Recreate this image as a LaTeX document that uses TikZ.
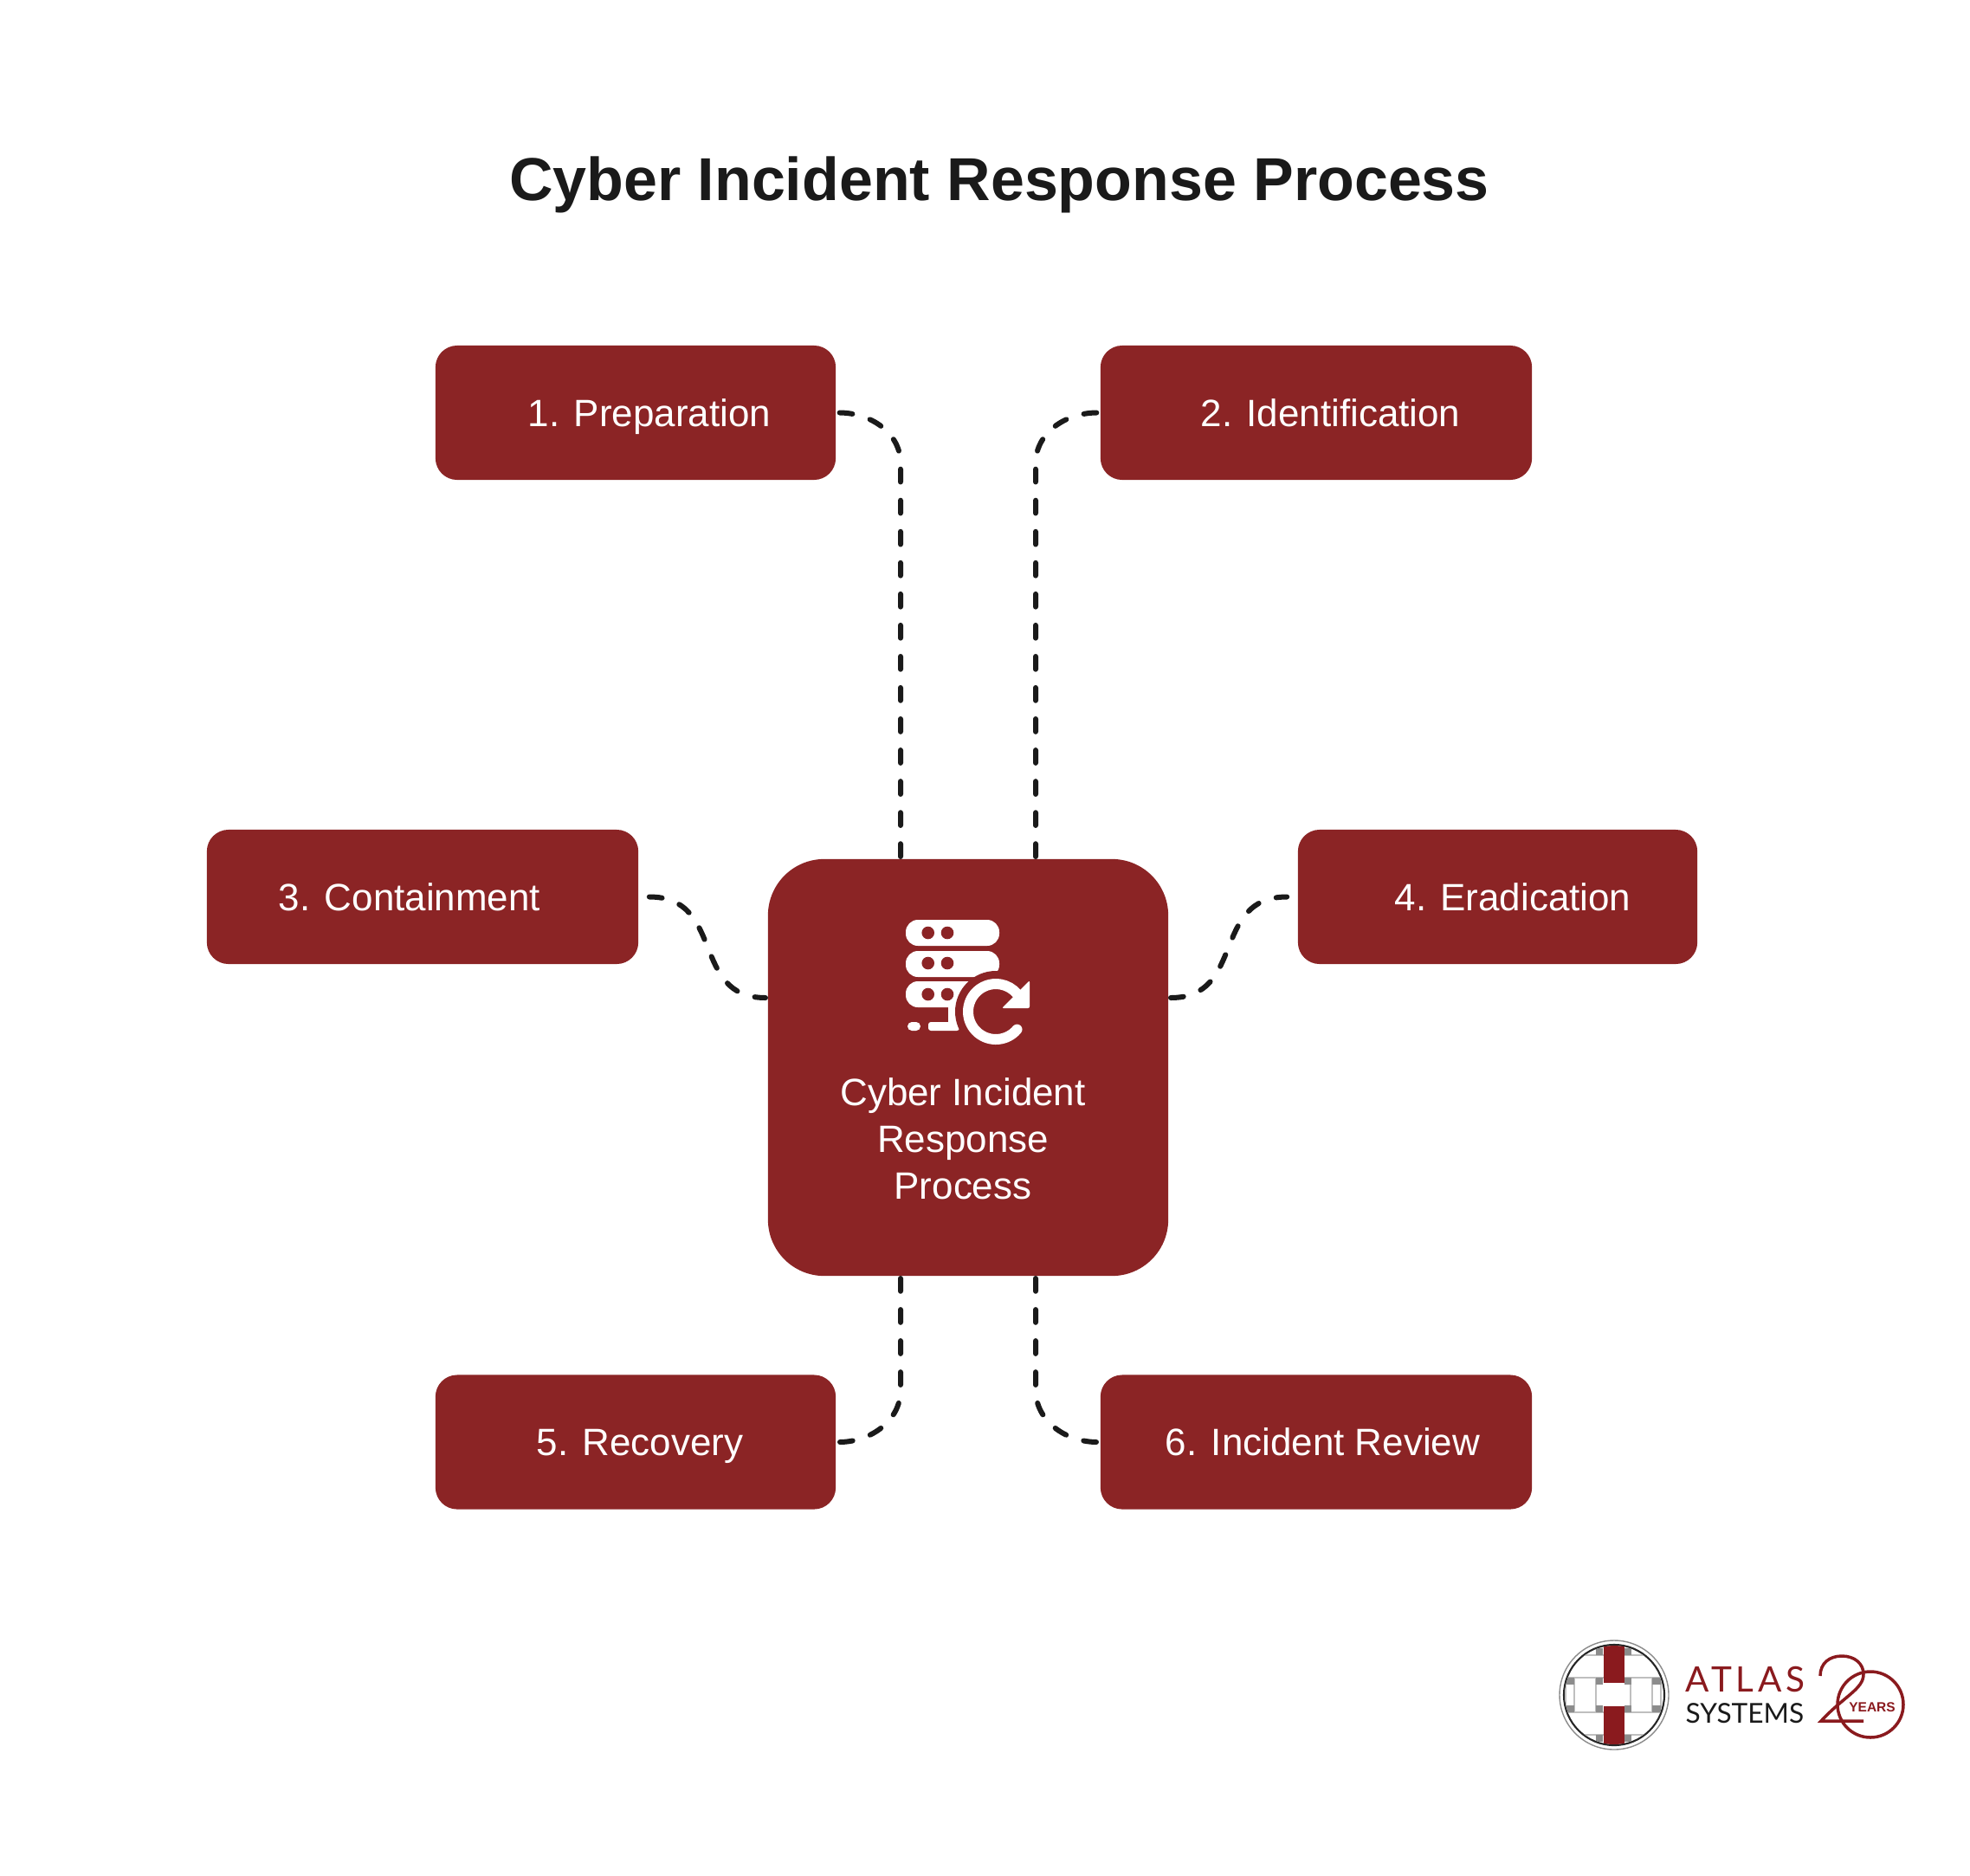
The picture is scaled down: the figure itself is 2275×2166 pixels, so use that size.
\documentclass[tikz,border=0pt]{standalone}
\usepackage{fontspec}
\setmainfont{Liberation Sans}
\newfontfamily\logofont[LetterSpace=12]{Lato}
\newfontfamily\logofontt{Lato}
\usepackage{tikz}
\usetikzlibrary{positioning}
\definecolor{rougeatlas}{HTML}{8B2425}
\definecolor{rougelogo}{HTML}{8A1A1E}
\definecolor{noiratlas}{HTML}{1A1A1A}

\begin{document}
\begin{tikzpicture}[x=0.01cm,y=-0.01cm]
% définition des paramètres
\tikzstyle titreatlas=[text=noiratlas,font=\fontsize{19.9}{24}\bfseries\selectfont]
\tikzstyle boiteatlas=[fill=rougeatlas,text=white,rounded corners=0.25cm,minimum height=1.55cm,inner sep=0pt,text height=0.315cm,text depth=0pt,font=\fontsize{12.5}{15.3}\selectfont]
\tikzstyle coeuratlas=[fill=rougeatlas,rounded corners=0.65cm,minimum width=4.62cm,minimum height=4.81cm,inner sep=0pt]
\tikzstyle texteatlas=[text=white,align=center,inner sep=0pt,font=\fontsize{12.5}{15.3}\selectfont]
\tikzstyle lienatlas=[color=noiratlas,line width=0.06cm,line cap=round,dash pattern=on 4.2pt off 6.05pt]
\tikzstyle iconeatlas=[fill=white]
\tikzstyle griseatlas=[fill=black!45]
\tikzstyle filatlas=[color=black!25,line width=0.3pt]
\newcommand{\xgauche}{1040} % abscisse du lien de gauche
\newcommand{\xdroite}{1196} % abscisse du lien de droite

\useasboundingbox (0,0) rectangle (2275,2166);

% le titre
\node[titreatlas] (titre) at (1154,213) {Cyber Incident Response Process};

% les boites
\node[boiteatlas,minimum width=4.62cm] (prep) at (734,476.5) {\hspace*{0.32cm}1. Preparation};
\node[boiteatlas,minimum width=4.98cm] (ident) at (1520,476.5) {\hspace*{0.33cm}2. Identification};
\node[boiteatlas,minimum width=4.98cm] (confin) at (488,1035.5) {3. Containment\hspace*{0.3cm}};
\node[boiteatlas,minimum width=4.61cm] (eradic) at (1729.5,1035.5) {\hspace*{0.35cm}4. Eradication};
\node[boiteatlas,minimum width=4.62cm] (recup) at (734,1665) {\hspace*{0.1cm}5. Recovery};
\node[boiteatlas,minimum width=4.98cm] (revue) at (1520,1665) {\hspace*{0.15cm}6. Incident Review};
\node[coeuratlas] (coeur) at (1118,1232.5) {};

% les points d'accroche
\coordinate (coeurhg) at (\xgauche,992);
\coordinate (coeurhd) at (\xdroite,992);
\coordinate (coeurbg) at (\xgauche,1473);
\coordinate (coeurbd) at (\xdroite,1473);
\coordinate (coeurg) at (887,1152);
\coordinate (coeurd) at (1349,1152);
\coordinate (coudeun) at (\xgauche,535);
\coordinate (coudedeux) at (\xdroite,535);
\coordinate (coudecinq) at (\xgauche,1605);
\coordinate (coudesix) at (\xdroite,1605);

% les liens
\draw[lienatlas,shorten <=0.03cm,shorten >=0.03cm] (coeurhg) -- (coudeun) .. controls +(0,-35) and +(40,0) .. (prep.east);
\draw[lienatlas,shorten <=0.03cm,shorten >=0.03cm] (coeurhd) -- (coudedeux) .. controls +(0,-35) and +(-40,0) .. (ident.west);
\draw[lienatlas,shorten <=0.12cm,shorten >=0.03cm] (confin.east) .. controls +(100,0) and +(-90,0) .. (coeurg);
\draw[lienatlas,shorten <=0.03cm,shorten >=0.12cm] (coeurd) .. controls +(90,0) and +(-100,0) .. (eradic.west);
\draw[lienatlas,shorten <=0.03cm,shorten >=0.03cm] (coeurbg) -- (coudecinq) .. controls +(0,35) and +(40,0) .. (recup.east);
\draw[lienatlas,shorten <=0.03cm,shorten >=0.03cm] (coeurbd) -- (coudesix) .. controls +(0,35) and +(-40,0) .. (revue.west);

% l'icone : les serveurs
\foreach \y in {1062,1098,1133}
    \fill[shift={(1046,\y)},iconeatlas,rounded corners=0.14cm] (0,0) rectangle (108,30);
\fill[iconeatlas,rounded corners=0.05cm] (1048,1180) rectangle (1063,1190);
\fill[iconeatlas,rounded corners=0.03cm] (1072,1180) rectangle (1108,1190);
\fill[iconeatlas] (1095,1160) rectangle (1108,1185);
\foreach \x in {1071.7,1094}
\foreach \y in {1077,1112,1148}
    \fill[shift={(\x,\y)},rougeatlas] (0,0) circle (7.3);
% l'icone : la fleche
\fill[rougeatlas] (1150,1168) circle (47);
\draw[white,line width=0.12cm,line cap=round] (1150,1168) ++(40:32) arc[start angle=40,end angle=320,radius=32];
\fill[iconeatlas,rounded corners=0.02cm] (1189,1132) -- (1189,1164) -- (1157,1164) -- cycle;

% le texte du centre
\node[texteatlas] (coeurtexte) at (1112,1315) {Cyber Incident\\Response\\Process};

% le logo
\draw[black!45,line width=0.4pt,fill=white] (1864,1957) circle (63);
\draw[black!85,line width=0.6pt] (1864,1957) circle (58);
\begin{scope}
\clip (1864,1957) circle (57);
\draw[filatlas] (1808,1937) rectangle (1918,1977);
\draw[filatlas] (1818,1937) -- (1818,1977);
\draw[filatlas] (1843,1937) -- (1843,1977);
\draw[filatlas] (1883,1937) -- (1883,1977);
\draw[filatlas] (1908,1937) -- (1908,1977);
\draw[filatlas] (1808,1911) -- (1920,1911);
\draw[filatlas] (1808,2003) -- (1920,2003);
\foreach \x in {1843,1876}
\foreach \y in {1903,1937,1969,2003}
    \fill[shift={(\x,\y)},griseatlas] (0,0) rectangle (8,8);
\foreach \x in {1808,1908}
\foreach \y in {1937,1969}
    \fill[shift={(\x,\y)},griseatlas] (0,0) rectangle (10,8);
\fill[rougelogo] (1852,1899) rectangle (1876,1943);
\fill[rougelogo] (1852,1970) rectangle (1876,2014);
\end{scope}
\node[text=rougelogo,anchor=west,inner sep=0pt,font=\fontsize{11.5}{12}\logofont] (atlas) at (1946,1939) {ATLAS};
\node[text=noiratlas,anchor=west,inner sep=0pt,font=\fontsize{9}{11}\logofontt] (systems) at (1946,1978) {SYSTEMS};
\draw[rougelogo,line width=0.035cm] (2160,1968) circle (38);
\draw[rougelogo,line width=0.035cm] (2102,1935) .. controls (2102,1920) and (2113,1912) .. (2127,1912) .. controls (2142,1912) and (2152,1921) .. (2152,1933) .. controls (2152,1950) and (2130,1958) .. (2103,1987) -- (2152,1987);
\node[text=rougelogo,inner sep=0pt,font=\fontsize{4.4}{5}\bfseries\selectfont] (years) at (2162,1971) {YEARS};
\end{tikzpicture}
\end{document}
